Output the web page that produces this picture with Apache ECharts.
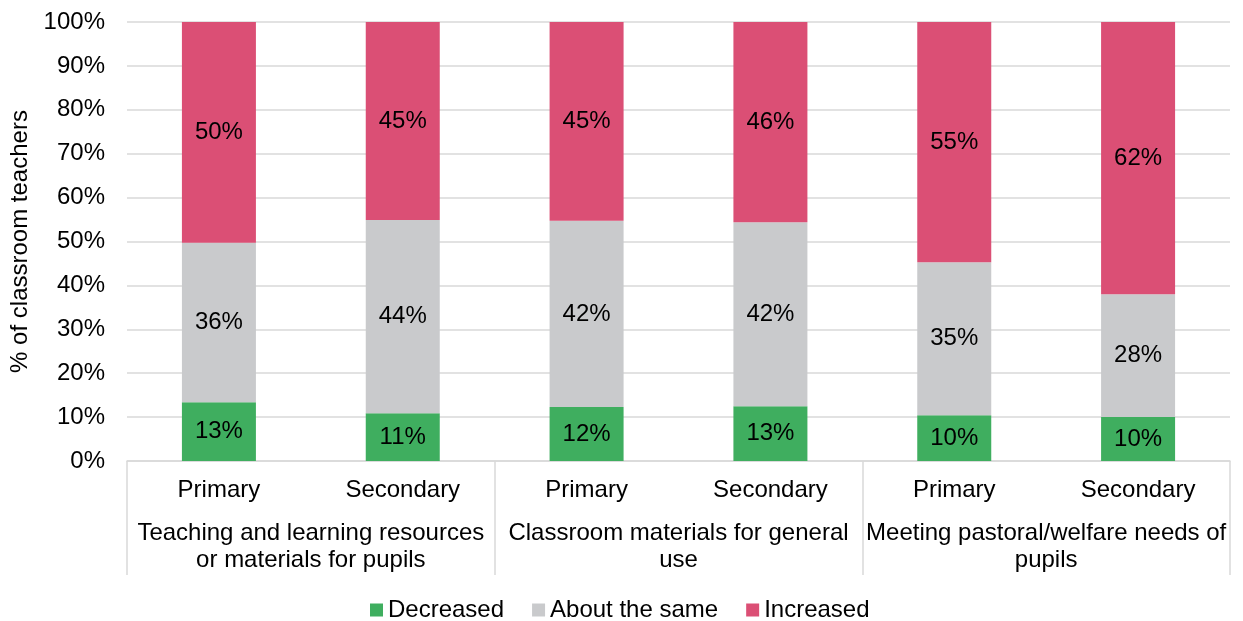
<!DOCTYPE html>
<html>
<head>
<meta charset="utf-8">
<script src="https://cdn.jsdelivr.net/npm/echarts@6/dist/echarts.min.js"></script>
<style>html,body{margin:0;padding:0;background:#fff}#c{width:1243px;height:621px}</style>
</head>
<body>
<div id="c"></div>
<script>
const subCategories = ['Primary', 'Secondary', 'Primary', 'Secondary', 'Primary', 'Secondary'];
const groupCategories = [
  'Teaching and learning resources\nor materials for pupils',
  'Classroom materials for general\nuse',
  'Meeting pastoral/welfare needs of\npupils'
];
const decreased = [13.4, 10.9, 12.3, 12.5, 10.4, 10.0];
const aboutSame = [36.3, 44.0, 42.4, 41.9, 34.9, 28.0];
const increased = [50.3, 45.1, 45.3, 45.6, 54.7, 62.0];
const yTicks = [0, 10, 20, 30, 40, 50, 60, 70, 80, 90, 100];

const FONT = '"Liberation Sans", Arial, sans-serif';
const FS = 24;
const chart = echarts.init(document.getElementById('c'));
const lbl = {
  show: true, position: 'inside', color: '#000', fontSize: FS, fontFamily: FONT,
  formatter: p => Math.round(p.value) + '%'
};
chart.setOption({
  animation: false,
  textStyle: { fontFamily: FONT },
  grid: { left: 127, right: 13, top: 22, bottom: 160, containLabel: false },
  legend: {
    bottom: -6, left: 365, itemWidth: 13, itemHeight: 13, itemGap: 28,
    icon: 'rect',
    textStyle: { fontSize: FS, color: '#000', fontFamily: FONT },
    data: ['Decreased', 'About the same', 'Increased']
  },
  xAxis: [
    {
      type: 'category', data: subCategories, position: 'bottom',
      axisLine: { show: true, lineStyle: { color: '#d9d9d9', width: 1.5 } },
      axisTick: { show: false },
      axisLabel: { color: '#000', fontSize: FS, fontFamily: FONT, margin: 17, interval: 0 }
    },
    {
      type: 'category', data: groupCategories, position: 'bottom',
      axisLine: { show: false },
      axisTick: { show: true, length: 114, lineStyle: { color: '#d9d9d9', width: 1.5 } },
      axisLabel: { color: '#000', fontSize: FS, fontFamily: FONT, margin: 59, lineHeight: 27, interval: 0 }
    }
  ],
  yAxis: {
    type: 'value', min: 0, max: 100, interval: 10,
    name: '% of classroom teachers', nameLocation: 'middle', nameGap: 91,
    nameTextStyle: { color: '#000', fontSize: FS, fontFamily: FONT },
    axisLine: { show: false }, axisTick: { show: false },
    axisLabel: { color: '#000', fontSize: FS, fontFamily: FONT, margin: 22,
      formatter: v => yTicks.includes(v) ? v + '%' : '' },
    splitLine: { lineStyle: { color: '#d9d9d9', width: 1.5 } }
  },
  series: [
    { name: 'Decreased', type: 'bar', stack: 's', barWidth: 74, data: decreased,
      itemStyle: { color: '#3fae5f' }, label: lbl },
    { name: 'About the same', type: 'bar', stack: 's', barWidth: 74, data: aboutSame,
      itemStyle: { color: '#c9cacc' }, label: lbl },
    { name: 'Increased', type: 'bar', stack: 's', barWidth: 74, data: increased,
      itemStyle: { color: '#db4f75' }, label: lbl }
  ]
});
</script>
</body>
</html>
